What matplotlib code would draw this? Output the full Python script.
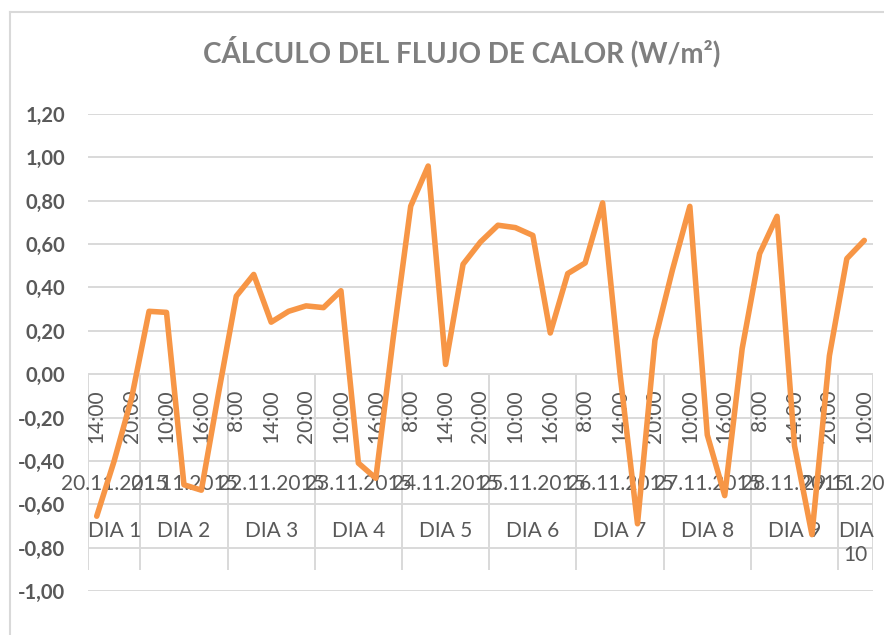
import matplotlib
matplotlib.use("Agg")
import matplotlib.pyplot as plt
from matplotlib.lines import Line2D
import numpy as np

plt.rcParams['font.family'] = ['Lato', 'DejaVu Sans']

# hourly readings, grouped by day
horas = ['14:00', '16:00', '20:00',
         '8:00', '10:00', '14:00', '16:00', '20:00',
         '8:00', '10:00', '14:00', '16:00', '20:00',
         '8:00', '10:00', '14:00', '16:00', '20:00',
         '8:00', '10:00', '14:00', '16:00', '20:00',
         '8:00', '10:00', '14:00', '16:00', '20:00',
         '8:00', '10:00', '14:00', '16:00', '20:00',
         '8:00', '10:00', '14:00', '16:00', '20:00',
         '8:00', '10:00', '14:00', '16:00', '20:00',
         '8:00', '10:00']
lecturas_por_dia = [3, 5, 5, 5, 5, 5, 5, 5, 5, 2]
fechas = ['20.11.2015', '21.11.2015', '22.11.2015', '23.11.2015', '24.11.2015',
          '25.11.2015', '26.11.2015', '27.11.2015', '28.11.2015', '29.11.2015']
dias = ['DIA 1', 'DIA 2', 'DIA 3', 'DIA 4', 'DIA 5',
        'DIA 6', 'DIA 7', 'DIA 8', 'DIA 9', 'DIA\n10']
flujo = [-0.655, -0.40, -0.11, 0.29, 0.285, -0.51, -0.535, -0.08, 0.36, 0.46,
         0.24, 0.29, 0.315, 0.307, 0.385, -0.41, -0.48, 0.17, 0.775, 0.96,
         0.045, 0.507, 0.61, 0.687, 0.676, 0.64, 0.19, 0.464, 0.513, 0.79,
         0.0, -0.69, 0.157, 0.48, 0.774, -0.28, -0.56, 0.118, 0.556, 0.728,
         -0.33, -0.74, 0.085, 0.533, 0.617]

GRIS = '#D9D9D9'
TEXTO = '#595959'
NARANJA = '#F79646'

fig = plt.figure(figsize=(8.84, 6.35), dpi=100)
ax = fig.add_axes([88 / 884, 1 - 591 / 635, 785 / 884, 477 / 635])

x = np.arange(len(flujo))
ax.set_xlim(-0.5, len(flujo) - 0.5)
ax.set_ylim(-1.0, 1.2)

yticks = np.arange(-1.0, 1.21, 0.2)
ax.set_yticks(yticks)
ax.set_yticklabels([('%.2f' % v).replace('.', ',').replace('-0,00', '0,00') for v in yticks],
                   fontsize=14.5, fontweight='bold', color=TEXTO)
ax.tick_params(axis='y', length=0, pad=16.5)
ax.set_xticks([])
for s in ax.spines.values():
    s.set_visible(False)
ax.grid(axis='y', color=GRIS, lw=1.4)
ax.set_axisbelow(True)

# multi-level category axis sitting on y=0
bordes = np.concatenate([[0], np.cumsum(lecturas_por_dia)]) - 0.5
ax.vlines(bordes, -0.905, 0, color=GRIS, lw=1.4, zorder=1)

for i, h in enumerate(horas):
    if i % 2 == 0:
        ax.text(i, -0.07, h, rotation=90, ha='center', va='top',
                fontsize=15, color=TEXTO, zorder=2)

for k in range(len(fechas)):
    c = (bordes[k] + bordes[k + 1]) / 2
    ax.text(c, -0.505, fechas[k], ha='center', va='center',
            fontsize=15, color=TEXTO, zorder=2, clip_on=False)
    ax.text(c, -0.675, dias[k], ha='center', va='top', fontsize=15,
            color=TEXTO, zorder=2, linespacing=1.25)

ax.plot(x, flujo, color=NARANJA, lw=4, solid_joinstyle='round',
        solid_capstyle='round', zorder=3)

fig.text(462 / 884, 1 - 52 / 635, 'CÁLCULO DEL FLUJO DE CALOR (W/m²)',
         ha='center', va='center', fontsize=20, fontweight='bold', color='#7F7F7F')

# chart border
fig.add_artist(Line2D([10 / 884, 10 / 884], [0, 1 - 12 / 635], color=GRIS, lw=1.5))
fig.add_artist(Line2D([10 / 884, 1], [1 - 12 / 635, 1 - 12 / 635], color=GRIS, lw=1.5))

fig.savefig('out.png', dpi=100)
